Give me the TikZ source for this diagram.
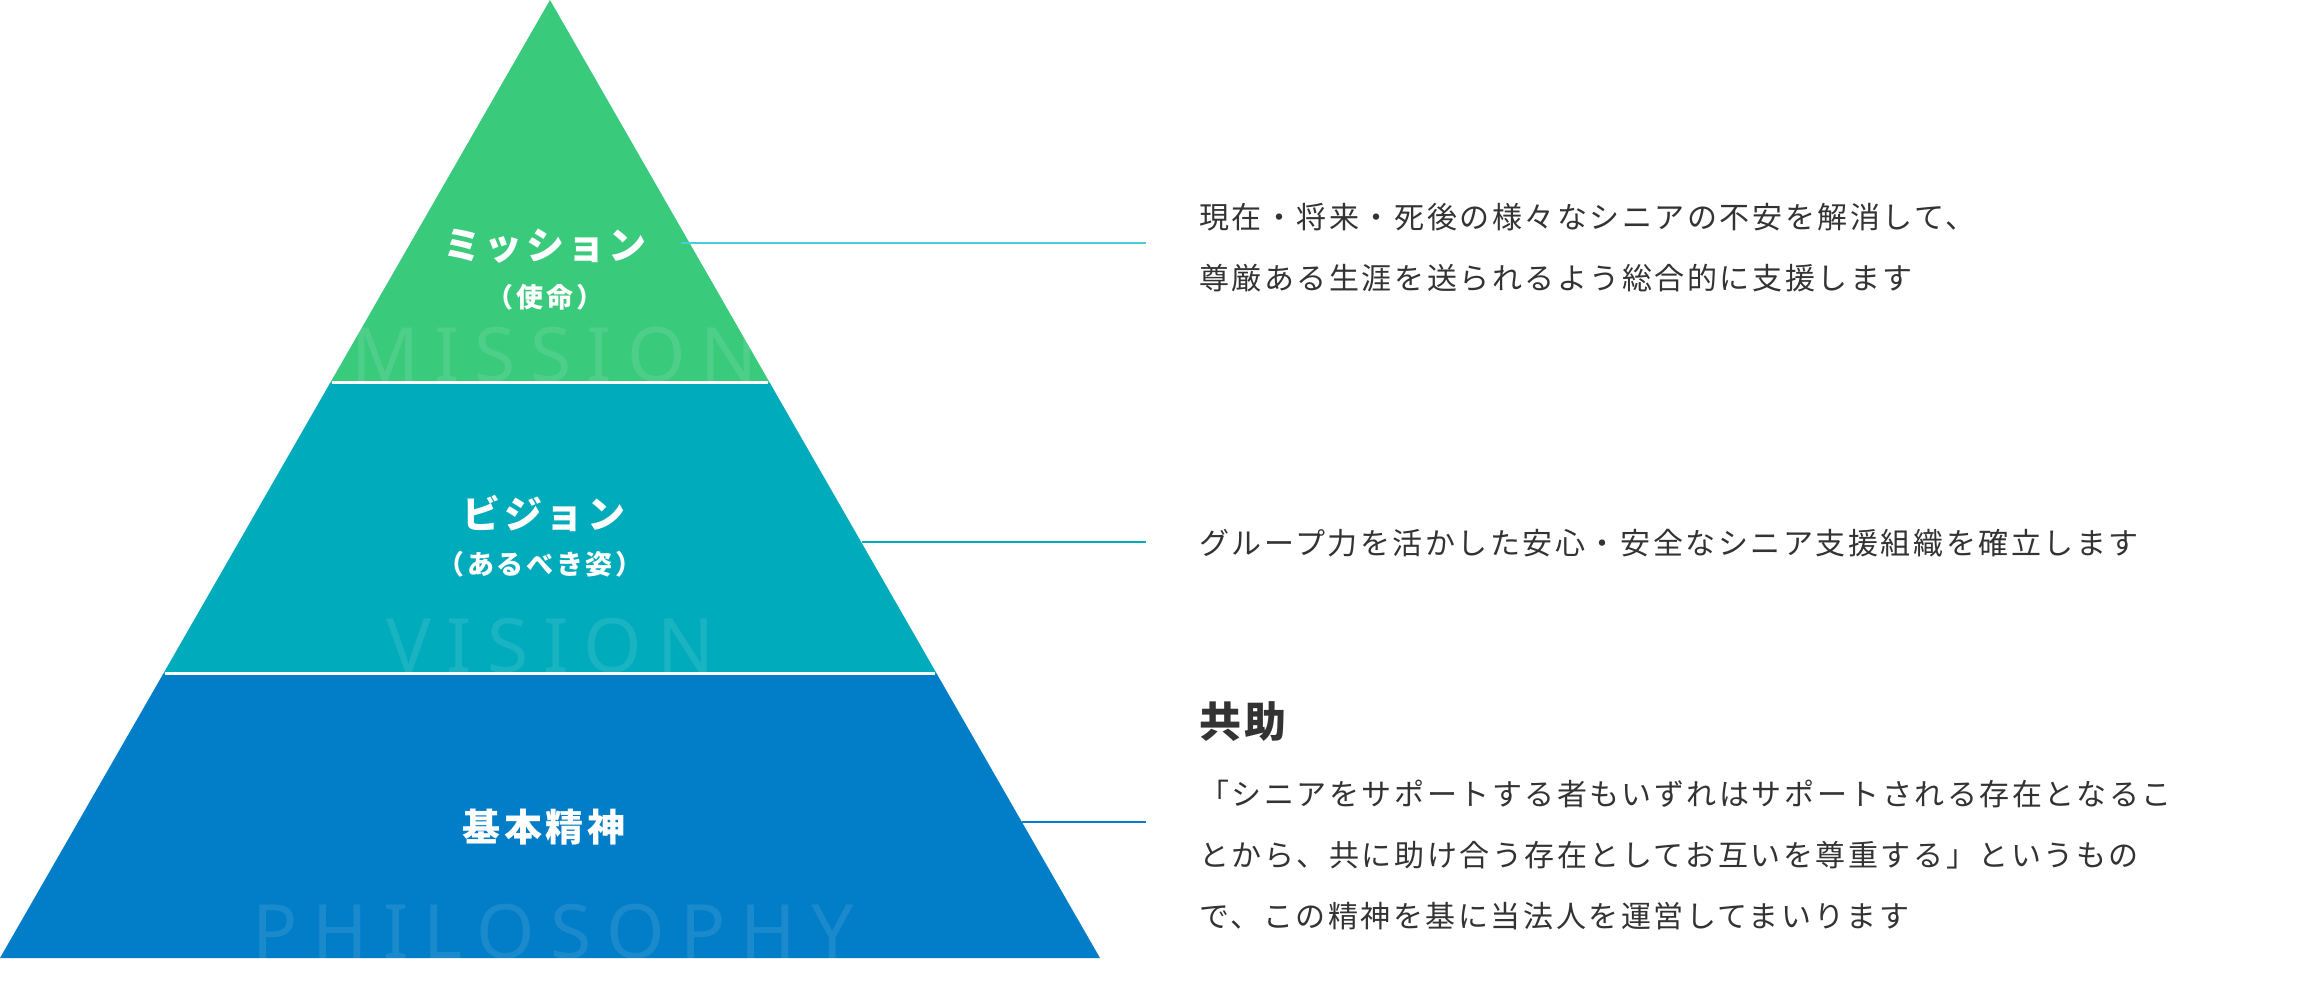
\documentclass[tikz,border=0pt]{standalone}
\usepackage{fontspec}
\newfontfamily\jpbody[LetterSpace=8.5]{Noto Sans CJK JP}
\newfontfamily\jplabel[LetterSpace=9]{Noto Sans CJK JP}
\newfontfamily\jpsub[LetterSpace=10]{Noto Sans CJK JP}
\newfontfamily\wmfont[LetterSpace=20]{Noto Sans}
\definecolor{pgreen}{RGB}{58,202,124}
\definecolor{pteal}{RGB}{0,171,187}
\definecolor{pblue}{RGB}{2,125,199}
\definecolor{lcyan}{RGB}{70,207,217}
\definecolor{txt}{RGB}{51,51,51}
\tikzset{
  wm/.style={anchor=base, inner sep=0pt, text=white, text opacity=0.1, font=\wmfont\fontsize{75}{80}\selectfont},
  lab/.style={anchor=base, inner sep=0pt, text=white, font=\jplabel\bfseries\fontsize{38}{44}\selectfont},
  sublab/.style={anchor=base, inner sep=0pt, text=white, font=\jpsub\bfseries\fontsize{27}{32}\selectfont},
  body/.style={anchor=base west, inner sep=0pt, text=txt, font=\jpbody\fontsize{30}{36}\selectfont},
  head/.style={anchor=base west, inner sep=0pt, text=txt, font=\jplabel\bfseries\fontsize{42}{48}\selectfont},
  sep/.style={draw=white, line width=3.5pt},
  conn/.style={line width=2pt}
}
\begin{document}
\begin{tikzpicture}[x=1pt,y=-1pt]
\useasboundingbox[fill=white] (0,0) rectangle (2298,984);
% pyramid bands
\fill[pgreen] (550,0) -- (770.5,384) -- (329.5,384) -- cycle;
\fill[pteal] (330.1,383) -- (769.9,383) -- (937.5,675) -- (162.5,675) -- cycle;
\fill[pblue] (163.1,674) -- (936.9,674) -- (1100,958) -- (0,958) -- cycle;
% watermarks
\begin{scope}
  \clip (550,0) -- (770.5,381) -- (329.5,381) -- cycle;
  \node[wm] (wmM) at (554.5,381) {MISSION};
\end{scope}
\begin{scope}
  \clip (330.1,383) -- (769.9,383) -- (936.9,672) -- (163.1,672) -- cycle;
  \node[wm] (wmV) at (550.5,672) {VISION};
\end{scope}
\begin{scope}
  \clip (163.1,674) -- (936.9,674) -- (1100,958) -- (0,958) -- cycle;
  \node[wm] (wmP) at (553,958) {PHILOSOPHY};
\end{scope}
% separators
\draw[sep] (332,382.5) -- (768,382.5);
\draw[sep] (165,673.5) -- (935,673.5);
% labels
\node[lab] (mission) at (545,260) {ミッション};
\node[sublab] (mission2) at (545,307.5) {（使命）};
\node[lab] (vision) at (544,528) {ビジョン};
\node[sublab] (vision2) at (540,574.5) {（あるべき姿）};
\node[lab] (philo) at (544,841) {基本精神};
% connectors
\coordinate (e1) at (681,243.5);
\coordinate (t1) at (1146,243.5);
\coordinate (e2) at (862,542);
\coordinate (t2) at (1146,542);
\coordinate (e3) at (1022,822);
\coordinate (t3) at (1146,822);
\draw[conn, lcyan] (e1) -- (t1);
\draw[conn, pteal] (e2) -- (t2);
\draw[conn, pblue] (e3) -- (t3);
% right texts
\node[body] (m1) at (1199,229) {現在・将来・死後の様々なシニアの不安を解消して、};
\node[body] (m2) at (1199,289) {尊厳ある生涯を送られるよう総合的に支援します};
\node[body] (v1) at (1199,554) {グループ力を活かした安心・安全なシニア支援組織を確立します};
\node[head] (ph) at (1199,737) {共助};
\node[body] (p1) at (1199,805) {「シニアをサポートする者もいずれはサポートされる存在となるこ};
\node[body] (p2) at (1199,866) {とから、共に助け合う存在としてお互いを尊重する」というもの};
\node[body] (p3) at (1199,927) {で、この精神を基に当法人を運営してまいります};
\end{tikzpicture}
\end{document}
